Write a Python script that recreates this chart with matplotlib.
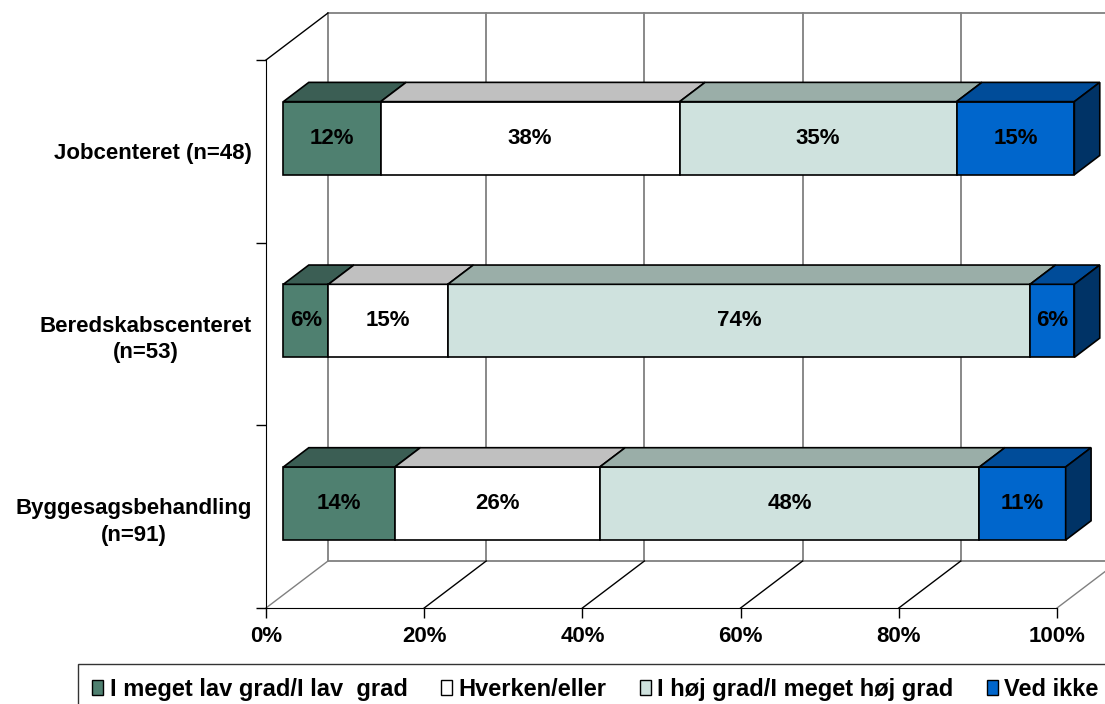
import matplotlib
matplotlib.use("Agg")
import matplotlib.pyplot as plt
from matplotlib.patches import Polygon, Patch

plt.rcParams["font.family"] = ["Liberation Sans", "DejaVu Sans"]
plt.rcParams["font.weight"] = "bold"

categories = ["Byggesagsbehandling\n(n=91)", "Beredskabscenteret\n(n=53)", "Jobcenteret (n=48)"]
series_names = ["I meget lav grad/I lav  grad", "Hverken/eller",
                "I høj grad/I meget høj grad", "Ved ikke"]
# percentages per category (bottom row first)
lav = [14.1, 5.7, 12.3]
hverken = [25.9, 15.1, 37.8]
hoej = [48.0, 73.6, 35.0]
ved_ikke = [10.9, 5.6, 14.9]
x_ticks = [0, 20, 40, 60, 80, 100]
x_ticklabels = ["0%", "20%", "40%", "60%", "80%", "100%"]

front_colors = ["#4F8070", "#FFFFFF", "#CFE2DE", "#0066CC"]
top_colors = ["#3B5E54", "#C0C0C0", "#9AAEA8", "#004C99"]
side_colors = ["#2C473F", "#A0A0A0", "#7E8E8A", "#003366"]

FS = 16
W, H = 1105, 704
fig = plt.figure(figsize=(W / 100, H / 100), dpi=100)
ax = fig.add_axes([266 / W, 96 / H, 791 / W, 548 / H])
ax.set_xlim(0, 100)
ax.set_ylim(0, 3)

# 3D depth of the walls, in data units
DX = 62 / 7.91
DY = 47 / 182.67
f0, f1 = 0.28, 0.69
bar_h = 0.4

gray = "#808080"
# back wall
for v in x_ticks:
    ax.plot([v + DX, v + DX], [DY, 3 + DY], color=gray, lw=1.3, clip_on=False, zorder=1)
ax.plot([DX, 100 + DX], [3 + DY, 3 + DY], color=gray, lw=1.3, clip_on=False, zorder=1)
ax.plot([DX, 100 + DX], [DY, DY], color=gray, lw=1.3, clip_on=False, zorder=1)
# floor diagonals
for v in x_ticks:
    c = gray if v in (0, 100) else "black"
    ax.plot([v, v + DX], [0, DY], color=c, lw=1, clip_on=False, zorder=1)
# left wall top edge
ax.plot([0, DX], [3, 3 + DY], color="black", lw=1, clip_on=False, zorder=1)

series = [lav, hverken, hoej, ved_ikke]
for i, cat in enumerate(categories):
    yc = i + 0.5
    left = 0
    for s, vals in enumerate(series):
        v = vals[i]
        bars = ax.barh(yc + f0 * DY, v, left=left + f0 * DX, height=bar_h,
                       color=front_colors[s], edgecolor="black", lw=1.2, zorder=3)
        for b in bars:
            b.set_clip_on(False)
        yt = yc + bar_h / 2
        top = [(left + f0 * DX, yt + f0 * DY), (left + v + f0 * DX, yt + f0 * DY),
               (left + v + f1 * DX, yt + f1 * DY), (left + f1 * DX, yt + f1 * DY)]
        ax.add_patch(Polygon(top, closed=True, facecolor=top_colors[s],
                             edgecolor="black", lw=1.2, zorder=3, clip_on=False))
        ax.text(left + v / 2 + f0 * DX, yc + f0 * DY, f"{v:.0f}%", ha="center",
                va="center", fontsize=FS, fontweight="bold", zorder=4, clip_on=False)
        left += v
    yb = yc - bar_h / 2
    yt = yc + bar_h / 2
    side = [(left + f0 * DX, yb + f0 * DY), (left + f1 * DX, yb + f1 * DY),
            (left + f1 * DX, yt + f1 * DY), (left + f0 * DX, yt + f0 * DY)]
    ax.add_patch(Polygon(side, closed=True, facecolor=side_colors[3],
                         edgecolor="black", lw=1.2, zorder=3, clip_on=False))

for sp in ["top", "right"]:
    ax.spines[sp].set_visible(False)
ax.spines["left"].set_color("black")
ax.spines["bottom"].set_color("black")
ax.spines["left"].set_zorder(2)
ax.spines["bottom"].set_zorder(2)
ax.patch.set_visible(False)

ax.set_xticks(x_ticks)
ax.set_xticklabels(x_ticklabels, fontsize=FS, fontweight="bold")
ax.tick_params(axis="x", length=7, width=1, pad=6)
ax.set_yticks([0, 1, 2, 3])
ax.set_yticklabels([])
ax.tick_params(axis="y", which="major", length=7, width=1)
ax.set_yticks([0.5, 1.5, 2.5], minor=True)
ax.set_yticklabels(categories, minor=True, fontsize=FS, fontweight="bold",
                   multialignment="center", linespacing=1.35)
ax.tick_params(axis="y", which="minor", length=0, pad=10)

handles = [Patch(facecolor=front_colors[s], edgecolor="black", lw=1) for s in range(4)]
fig.legend(handles, series_names, loc="upper left", bbox_to_anchor=(78 / W, 1 - 664 / H),
           ncol=4, frameon=True, fancybox=False, edgecolor="black",
           handlelength=0.47, handleheight=0.6, handletextpad=0.28, columnspacing=1.4,
           borderpad=0.6, borderaxespad=0, prop={"weight": "bold", "size": 17})

fig.savefig("out.png", dpi=100)
